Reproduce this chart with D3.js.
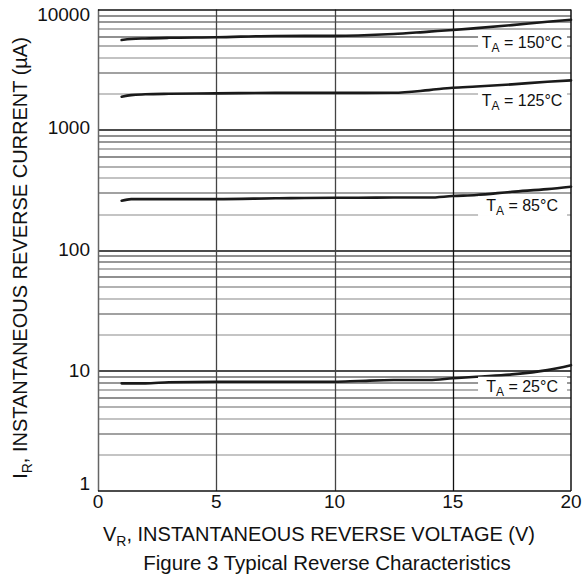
<!DOCTYPE html>
<html>
<head>
<meta charset="utf-8">
<script src="https://cdn.jsdelivr.net/npm/d3@7"></script>
<style>
  body { margin: 0; background: #fff; }
  svg text { font-family: "Liberation Sans", Arial, sans-serif; fill: #111; }
</style>
</head>
<body>
<div id="chart"></div>
<script>
// reverse voltage (V) where the curves were read
var volts = [1, 1.4, 2, 3, 5, 7.5, 10, 11, 12.5, 14, 15, 16, 17.5, 19, 20];
// reverse current (uA) for each ambient temperature
var i150 = [5580, 5680, 5750, 5820, 5880, 6030, 6040, 6080, 6250, 6550, 6750, 7000, 7420, 7900, 8210];
var i125 = [1883, 1945, 1975, 1995, 2010, 2030, 2030, 2030, 2033, 2140, 2238, 2290, 2388, 2510, 2577];
var i85  = [258, 266, 266, 266, 266, 270, 273, 273, 274, 274, 282, 288, 306, 322, 337];
var i25  = [7.84, 7.84, 7.84, 8.0, 8.09, 8.09, 8.09, 8.2, 8.36, 8.36, 8.63, 8.9, 9.3, 10.1, 11.1];
var temps = ["150", "125", "85", "25"];
// current value where each label's baseline sits
var labelAt = [4750, 1577, 212, 6.68];
var xTicks = [0, 5, 10, 15, 20];
var yTicks = [1, 10, 100, 1000, 10000];

var width_chart  = 582;
var height_chart = 577;
var margin = {top: 9.5, right: 11, bottom: 86, left: 98};
var w = width_chart - margin.left - margin.right;
var h = height_chart - margin.top - margin.bottom;

var svg = d3.select("#chart").append("svg")
  .attr("width", width_chart)
  .attr("height", height_chart);

var g = svg.append("g")
  .attr("transform", "translate(" + margin.left + "," + margin.top + ")");

var x = d3.scaleLinear().domain([0, 20]).range([0, w]);
var y = d3.scaleLog().domain([1, 10000]).range([h, 0]);

// minor gridlines 2..9 in each decade, tones vary like the scan
var minorTone = {2: "#8a8a8a", 3: "#444", 4: "#888", 5: "#666", 6: "#222", 7: "#666", 8: "#333", 9: "#222"};
var minor = [];
[1, 10, 100, 1000].forEach(function (dec) {
  for (var k = 2; k <= 9; k++) minor.push({v: dec * k, k: k});
});
g.append("g").selectAll("line.minor")
  .data(minor)
  .enter().append("line")
  .attr("x1", 0).attr("x2", w)
  .attr("y1", function (d) { return Math.round(y(d.v)) + 0.5; })
  .attr("y2", function (d) { return Math.round(y(d.v)) + 0.5; })
  .style("stroke", function (d) { return minorTone[d.k]; })
  .style("stroke-width", 1.2);

g.append("g").selectAll("line.major")
  .data([10, 100, 1000])
  .enter().append("line")
  .attr("x1", 0).attr("x2", w)
  .attr("y1", function (d) { return Math.round(y(d)) + 0.5; })
  .attr("y2", function (d) { return Math.round(y(d)) + 0.5; })
  .style("stroke", "#111")
  .style("stroke-width", 1.3);

g.append("g").selectAll("line.vert")
  .data([5, 10, 15])
  .enter().append("line")
  .attr("x1", function (d) { return Math.round(x(d)) + 0.5; })
  .attr("x2", function (d) { return Math.round(x(d)) + 0.5; })
  .attr("y1", 0).attr("y2", h)
  .style("stroke", function (d) { return d == 15 ? "#111" : "#444"; })
  .style("stroke-width", 1.3);

// frame
g.append("line").attr("x1", 0.5).attr("x2", 0.5).attr("y1", 0).attr("y2", h)
  .style("stroke", "#666").style("stroke-width", 1.5);
g.append("line").attr("x1", w).attr("x2", w).attr("y1", 0).attr("y2", h)
  .style("stroke", "#111").style("stroke-width", 1.5);
g.append("line").attr("x1", 0).attr("x2", w).attr("y1", 0.5).attr("y2", 0.5)
  .style("stroke", "#111").style("stroke-width", 1.3);
g.append("line").attr("x1", 0).attr("x2", w).attr("y1", h).attr("y2", h)
  .style("stroke", "#111").style("stroke-width", 1.5);

// curves
var line = d3.line()
  .curve(d3.curveMonotoneX)
  .x(function (d, i) { return x(volts[i]); })
  .y(function (d) { return y(d); });

g.append("g").selectAll("path.curve")
  .data([i150, i125, i85, i25])
  .enter().append("path")
  .attr("d", line)
  .style("fill", "none")
  .style("stroke", "#1a1a1a")
  .style("stroke-width", 2.6)
  .style("stroke-linecap", "round");

// temperature labels on white boxes
var lab = g.append("g").selectAll("g.lab")
  .data(temps)
  .enter().append("g")
  .attr("transform", function (d, i) {
    return "translate(" + x(17.93) + "," + y(labelAt[i]) + ")";
  });
lab.append("rect")
  .attr("x", -44).attr("y", -15).attr("width", 89).attr("height", 20)
  .style("fill", "#fff");
var lt = lab.append("text")
  .attr("text-anchor", "middle")
  .style("font-size", "16px");
lt.append("tspan").text("T");
lt.append("tspan").attr("dy", 4).style("font-size", "12px").text("A");
lt.append("tspan").attr("dy", -4).text(function (d) { return " = " + d + "\u00b0C"; });

// y tick labels
var yOff = {1: -1, 10: 6, 100: 6, 1000: 4, 10000: 11};
g.append("g").selectAll("text.yt")
  .data(yTicks)
  .enter().append("text")
  .attr("x", -8)
  .attr("y", function (d) { return y(d) + yOff[d]; })
  .attr("text-anchor", "end")
  .style("font-size", "19px")
  .text(function (d) { return d; });

// x tick labels
g.append("g").selectAll("text.xt")
  .data(xTicks)
  .enter().append("text")
  .attr("x", function (d) { return x(d); })
  .attr("y", h + 17)
  .attr("text-anchor", "middle")
  .style("font-size", "19px")
  .text(function (d) { return d; });

// axis titles
var xt = svg.append("text")
  .attr("x", 319).attr("y", 541)
  .attr("text-anchor", "middle")
  .style("font-size", "20px");
xt.append("tspan").text("V");
xt.append("tspan").attr("dy", 5).style("font-size", "14px").text("R");
xt.append("tspan").attr("dy", -5).text(", INSTANTANEOUS REVERSE VOLTAGE (V)");

svg.append("text")
  .attr("x", 327).attr("y", 570)
  .attr("text-anchor", "middle")
  .style("font-size", "20.5px")
  .text("Figure 3 Typical Reverse Characteristics");

var yt = svg.append("text")
  .attr("transform", "translate(27,258) rotate(-90)")
  .attr("text-anchor", "middle")
  .style("font-size", "20px");
yt.append("tspan").text("I");
yt.append("tspan").attr("dy", 5).style("font-size", "14px").text("R");
yt.append("tspan").attr("dy", -5).text(", INSTANTANEOUS REVERSE CURRENT (\u00b5A)");
</script>
</body>
</html>
